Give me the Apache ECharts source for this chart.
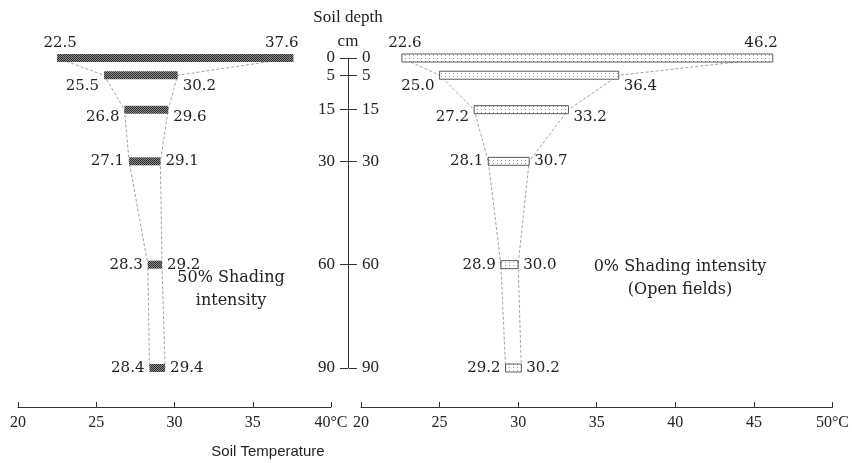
<!DOCTYPE html>
<html><head><meta charset="utf-8">
<script src="https://cdn.jsdelivr.net/npm/echarts@6/dist/echarts.min.js"></script>
<style>html,body{margin:0;padding:0;background:#fff}#c{width:852px;height:463px}</style>
</head><body><div id="c"></div>
<script>
// ---- data ----
const depths = [0, 5, 15, 30, 60, 90];
const shade50Min = [22.5, 25.5, 26.8, 27.1, 28.3, 28.4];
const shade50Max = [37.6, 30.2, 29.6, 29.1, 29.2, 29.4];
const open0Min = [22.6, 25.0, 27.2, 28.1, 28.9, 29.2];
const open0Max = [46.2, 36.4, 33.2, 30.7, 30.0, 30.2];
const depthTicks = [0, 5, 15, 30, 60, 90];
const leftTempRange = [20, 40];
const rightTempRange = [20, 50];
const tempStep = 5;

// ---- patterns ----
function makePattern(kind) {
  const c = document.createElement('canvas');
  const g = c.getContext('2d');
  if (kind === 'dark') {
    c.width = 2; c.height = 2;
    g.fillStyle = '#8e8e8e'; g.fillRect(0, 0, 2, 2);
    g.fillStyle = '#2a2a2a'; g.fillRect(0, 0, 1, 1); g.fillRect(1, 1, 1, 1);
  } else {
    c.width = 4; c.height = 3;
    g.fillStyle = '#ffffff'; g.fillRect(0, 0, 4, 3);
    g.fillStyle = '#9a9a9a'; g.fillRect(1, 1, 1, 1);
  }
  return { image: c, repeat: 'repeat' };
}

const NUMFONT = '15px "DejaVu Serif"';
const TXT = '#222';

function rangeSeries(idx, mins, maxs, fill, stroke) {
  return {
    type: 'custom', xAxisIndex: idx, yAxisIndex: idx, z: 5,
    data: depths.map((d, i) => [mins[i], maxs[i], d]),
    encode: { x: [0, 1], y: 2 },
    renderItem(params, api) {
      const lo = api.value(0), hi = api.value(1), d = api.value(2);
      const p0 = api.coord([lo, d]), p1 = api.coord([hi, d]);
      const h = 8;
      const kids = [{
        type: 'rect',
        shape: { x: p0[0], y: p0[1] - h / 2, width: p1[0] - p0[0], height: h },
        style: { fill: fill, stroke: stroke || null, lineWidth: stroke ? 0.8 : 0 }
      }];
      if (d === 0) {
        kids.push({ type: 'text', style: { text: lo.toFixed(1), x: p0[0] + 3, y: p0[1] - h / 2 - 3, align: 'center', verticalAlign: 'bottom', font: NUMFONT, fill: TXT } });
        kids.push({ type: 'text', style: { text: hi.toFixed(1), x: p1[0] + 5, y: p1[1] - h / 2 - 3, align: 'right', verticalAlign: 'bottom', font: NUMFONT, fill: TXT } });
      } else {
        const dy = d === 5 ? 11 : (d === 15 ? 7 : 0);
        kids.push({ type: 'text', style: { text: lo.toFixed(1), x: p0[0] - 5, y: p0[1] + dy, align: 'right', verticalAlign: 'middle', font: NUMFONT, fill: TXT } });
        kids.push({ type: 'text', style: { text: hi.toFixed(1), x: p1[0] + 5, y: p1[1] + dy, align: 'left', verticalAlign: 'middle', font: NUMFONT, fill: TXT } });
      }
      return { type: 'group', children: kids };
    }
  };
}

function edgeLine(idx, vals) {
  return {
    type: 'line', xAxisIndex: idx, yAxisIndex: idx, z: 2,
    data: depths.map((d, i) => [vals[i], d]),
    symbol: 'none', silent: true, animation: false,
    lineStyle: { type: [3, 2], color: '#8c8c8c', width: 0.8 }
  };
}

function tempAxis(gi, range) {
  return {
    type: 'value', gridIndex: gi, min: range[0], max: range[1], interval: tempStep,
    position: 'bottom', offset: 39,
    axisLine: { show: true, onZero: false, lineStyle: { color: '#333', width: 1 } },
    axisTick: { show: true, inside: true, length: 5, lineStyle: { color: '#333' } },
    splitLine: { show: false },
    axisLabel: { margin: 8, color: TXT, fontFamily: 'Liberation Serif', fontSize: 16,
      showMinLabel: true, showMaxLabel: true,
      formatter: v => v === range[1] ? v + '°C' : String(v) }
  };
}

function depthAxis(gi, pos, showLine) {
  return {
    type: 'value', gridIndex: gi, min: 0, max: 90, inverse: true, position: pos,
    axisLine: { show: showLine, onZero: false, lineStyle: { color: '#333', width: 1 } },
    axisTick: { show: true, length: 8, customValues: depthTicks, lineStyle: { color: '#333' } },
    axisLabel: { show: true, customValues: depthTicks, showMinLabel: true, showMaxLabel: true, hideOverlap: false,
      margin: 13, color: TXT, fontFamily: 'Liberation Serif', fontSize: 17 },
    splitLine: { show: false }
  };
}

function hiddenY(gi) {
  return { type: 'value', gridIndex: gi, min: 0, max: 90, inverse: true, show: false };
}

const chart = echarts.init(document.getElementById('c'), null, { renderer: 'canvas' });
chart.setOption({
  animation: false,
  backgroundColor: '#fff',
  grid: [
    { left: 18, top: 58, width: 313, height: 310 },
    { left: 361, top: 58, width: 473, height: 310 },
    { left: 348, top: 58, width: 1, height: 310 }
  ],
  xAxis: [
    tempAxis(0, leftTempRange),
    tempAxis(1, rightTempRange),
    { type: 'value', gridIndex: 2, min: 0, max: 1, show: false }
  ],
  yAxis: [
    hiddenY(0),
    hiddenY(1),
    depthAxis(2, 'left', true),
    depthAxis(2, 'right', false)
  ],
  graphic: [
    { type: 'text', style: { text: 'Soil depth', x: 348, y: 18, align: 'center', verticalAlign: 'middle', font: '17px "Liberation Serif"', fill: TXT } },
    { type: 'text', style: { text: 'cm', x: 348, y: 42, align: 'center', verticalAlign: 'middle', font: '17px "Liberation Serif"', fill: TXT } },
    { type: 'text', style: { text: '50% Shading\nintensity', x: 231, y: 289, align: 'center', verticalAlign: 'middle', font: '16px "DejaVu Serif"', lineHeight: 23, fill: TXT } },
    { type: 'text', style: { text: '0% Shading intensity\n(Open fields)', x: 680, y: 278, align: 'center', verticalAlign: 'middle', font: '16px "DejaVu Serif"', lineHeight: 23, fill: TXT } },
    { type: 'text', style: { text: 'Soil Temperature', x: 268, y: 452, align: 'center', verticalAlign: 'middle', font: '15px "Liberation Sans"', fill: TXT } }
  ],
  series: [
    edgeLine(0, shade50Min), edgeLine(0, shade50Max),
    edgeLine(1, open0Min), edgeLine(1, open0Max),
    rangeSeries(0, shade50Min, shade50Max, makePattern('dark'), null),
    rangeSeries(1, open0Min, open0Max, makePattern('dots'), '#333'),
    { type: 'scatter', xAxisIndex: 2, yAxisIndex: 2, data: [] }
  ]
});
</script>
</body></html>
